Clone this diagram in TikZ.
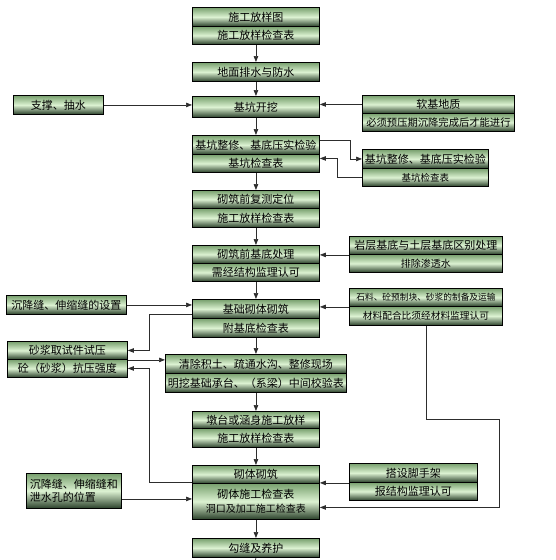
\documentclass[tikz,border=0pt]{standalone}
\usepackage{fontspec}
\newfontfamily\cjk{Noto Sans CJK SC}
\usetikzlibrary{arrows.meta}
\definecolor{gtop}{RGB}{120,160,110}
\definecolor{gmid}{RGB}{220,242,210}
\definecolor{gbot}{RGB}{40,62,40}
\definecolor{lnc}{RGB}{45,45,45}
\begin{document}
\begin{tikzpicture}[x=1pt,y=-1pt,
  row/.style={draw=black, line width=0.9pt, top color=gtop, bottom color=gbot, middle color=gmid,
    anchor=north west, inner sep=0pt, align=center, font=\cjk\fontsize{11}{12.5}\selectfont},
  mw/.style={minimum width=127pt},
  arr/.style={draw=lnc, line width=0.7pt, -{Triangle[length=6pt,width=4.5pt]}},
  ln/.style={draw=lnc, line width=0.7pt}]
\useasboundingbox[fill=white] (0,0) rectangle (555,560);
% main column
\node[row,mw,minimum height=19pt] (r1a) at (192,7) {施工放样图};
\node[row,mw,minimum height=18pt] (r1b) at (192,26) {施工放样检查表};
\node[row,mw,minimum height=19pt] (r2) at (192,62) {地面排水与防水};
\node[row,mw,minimum height=21pt] (r3) at (192,96) {基坑开挖};
\node[row,mw,minimum height=19pt] (r4a) at (192,135) {基坑整修、基底压实检验};
\node[row,mw,minimum height=18pt] (r4b) at (192,154) {基坑检查表};
\node[row,mw,minimum height=18pt] (r5a) at (192,190) {砌筑前复测定位};
\node[row,mw,minimum height=19pt] (r5b) at (192,208) {施工放样检查表};
\node[row,mw,minimum height=18pt] (r6a) at (192,245) {砌筑前基底处理};
\node[row,mw,minimum height=18pt] (r6b) at (192,263) {需经结构监理认可};
\node[row,mw,minimum height=19pt] (r7a) at (192,299) {基础砌体砌筑};
\node[row,mw,minimum height=19pt] (r7b) at (192,318) {附基底检查表};
\node[row,minimum width=181pt,minimum height=19pt] (r8a) at (165,354) {清除积土、疏通水沟、整修现场};
\node[row,minimum width=181pt,minimum height=19pt] (r8b) at (165,373) {明挖基础承台、（系梁）中间校验表};
\node[row,mw,minimum height=17pt] (r9a) at (192,411) {墩台或涵身施工放样};
\node[row,mw,minimum height=19pt] (r9b) at (192,428) {施工放样检查表};
\node[row,mw,minimum height=18pt] (r10a) at (192,465) {砌体砌筑};
\node[row,mw,minimum height=36pt] (r10b) at (192,483) {砌体施工检查表\\[2pt]{\fontsize{10}{12}\selectfont 洞口及加工施工检查表}};
\node[row,mw,minimum height=19pt] (r11) at (192,538) {勾缝及养护};
% left column
\node[row,minimum width=90pt,minimum height=19pt] (L1) at (13,95) {支撑、抽水};
\node[row,minimum width=120pt,minimum height=19pt] (L2) at (6,295) {沉降缝、伸缩缝的设置};
\node[row,minimum width=120pt,minimum height=18pt] (L3a) at (7,341) {砂浆取试件试压};
\node[row,minimum width=120pt,minimum height=18pt] (L3b) at (7,359) {砼（砂浆）抗压强度};
\node[row,minimum width=95pt,minimum height=35pt,align=left] (L4) at (26,473) {沉降缝、伸缩缝和\\泄水孔的位置};
% right column
\node[row,minimum width=152pt,minimum height=18pt] (R1a) at (362,95) {软基地质};
\node[row,minimum width=152pt,minimum height=18pt,font=\cjk\fontsize{10.3}{12}\selectfont] (R1b) at (362,113) {必须预压期沉降完成后才能进行};
\node[row,minimum width=126pt,minimum height=19pt] (R2a) at (362,149) {基坑整修、基底压实检验};
\node[row,minimum width=126pt,minimum height=18pt,font=\cjk\fontsize{9.5}{11}\selectfont] (R2b) at (362,168) {基坑检查表};
\node[row,minimum width=153pt,minimum height=18pt] (R3a) at (349,236) {岩层基底与土层基底区别处理};
\node[row,minimum width=153pt,minimum height=18pt,font=\cjk\fontsize{10}{12}\selectfont] (R3b) at (349,254) {排除渗透水};
\node[row,minimum width=153pt,minimum height=18pt,font=\cjk\fontsize{8.7}{10}\selectfont] (R4a) at (349,288) {石料、砼预制块、砂浆的制备及运输};
\node[row,minimum width=153pt,minimum height=19pt,font=\cjk\fontsize{9.7}{11}\selectfont] (R4b) at (349,306) {材料配合比须经材料监理认可};
\node[row,minimum width=128pt,minimum height=19pt] (R5a) at (349,463) {搭设脚手架};
\node[row,minimum width=128pt,minimum height=18pt] (R5b) at (349,482) {报结构监理认可};
\coordinate (k1) at (499,419);
\coordinate (bend) at (255.5,560);
% main flow
\draw[arr] (r1b.south) -- (r2.north);
\draw[arr] (r2.south) -- (r3.north);
\draw[arr] (r3.south) -- (r4a.north);
\draw[arr] (r4b.south) -- (r5a.north);
\draw[arr] (r5b.south) -- (r6a.north);
\draw[arr] (r6b.south) -- (r7a.north);
\draw[arr] (r7b.south) -- (r8a.north);
\draw[arr] (r8b.south -| r9a.north) -- (r9a.north);
\draw[arr] (r9b.south) -- (r10a.north);
\draw[arr] (r10b.south) -- (r11.north);
\draw[ln] (r11.south) -- (bend);
% side inputs
\draw[arr] (L1.east) -- (L1.east -| r3.west);
\draw[arr] (R1a.west) -- (R1a.west -| r3.east);
\draw[arr] ([yshift=5pt]r4a.east) -- ++(30,0) |- (R2a.west);
\draw[arr] (R2b.west) -- ++(-25,0) |- ([yshift=5pt]r4b.east);
\draw[arr] (R3a.south west) -- (R3a.south west -| r6a.east);
\draw[arr] (L2.east) -- (L2.east -| r7a.west);
\draw[arr] (R4a.south west) -- (R4a.south west -| r7a.east);
\draw[arr] ([yshift=-5pt]r7a.west) -- ++(-43,0) |- (L3a.east);
\draw[arr] (L3a.south east) -- (L3a.south east -| r8a.west);
\draw[arr] ([yshift=2pt]r10a.south west) -- ++(-43,0) |- (L3b.east);
\draw[arr] ([yshift=-8pt]L4.east) -- ([yshift=-8pt]L4.east -| r10b.west);
\draw[arr] (R5a.south west) -- (R5a.south west -| r10a.east);
\draw[arr] (R4b.south) |- (k1) |- ([yshift=-6pt]r10b.east);
\end{tikzpicture}
\end{document}
